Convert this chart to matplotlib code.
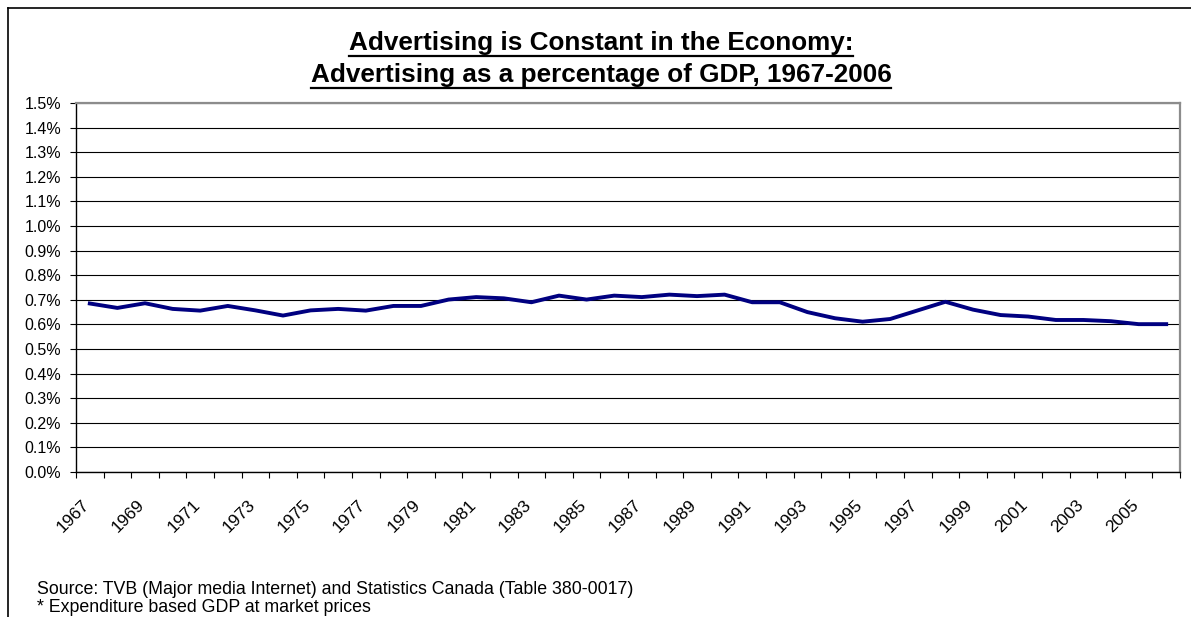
import matplotlib
matplotlib.use("Agg")
import matplotlib.pyplot as plt
from matplotlib.lines import Line2D
from matplotlib.ticker import FuncFormatter, FixedLocator
from matplotlib.transforms import ScaledTranslation

plt.rcParams['font.family'] = ['Liberation Sans', 'DejaVu Sans']

# advertising spend as % of GDP, one value per year
years = list(range(1967, 2007))
ad_share = [0.685, 0.667, 0.686, 0.663, 0.656, 0.675, 0.657, 0.636, 0.657, 0.663,
            0.656, 0.675, 0.675, 0.701, 0.711, 0.706, 0.690, 0.717, 0.701, 0.717,
            0.711, 0.721, 0.715, 0.721, 0.690, 0.690, 0.650, 0.625, 0.611, 0.622,
            0.657, 0.692, 0.660, 0.638, 0.632, 0.618, 0.618, 0.613, 0.601, 0.601]
y_ticks = [i / 10 for i in range(16)]

title_lines = ["Advertising is Constant in the Economy:",
               "Advertising as a percentage of GDP, 1967-2006"]
notes = ["Source: TVB (Major media Internet) and Statistics Canada (Table 380-0017)",
         "* Expenditure based GDP at market prices"]

W, H = 1191, 617
fig = plt.figure(figsize=(W / 100, H / 100), dpi=100)
ax = fig.add_axes([76 / W, 1 - 472 / H, (1180 - 76) / W, (472 - 103) / H])

x = list(range(len(years)))
ax.plot(x, ad_share, color='#000080', lw=2.8, solid_joinstyle='round')

ax.set_xlim(-0.5, len(years) - 0.5)
ax.set_ylim(0, 1.5)

# y axis: percent labels with black gridlines
ax.set_yticks(y_ticks)
ax.yaxis.set_major_formatter(FuncFormatter(lambda v, p: f"{v:.1f}%"))
ax.grid(axis='y', color='black', lw=0.8)
ax.set_axisbelow(True)
ax.tick_params(axis='y', direction='out', length=4.5, width=0.8, pad=6.3,
               labelsize=11.5, color='black')

# x axis: tick marks between categories, labels every other year
ax.xaxis.set_minor_locator(FixedLocator([i - 0.5 for i in range(len(years) + 1)]))
ax.tick_params(axis='x', which='minor', direction='out', length=4.5, width=0.8)
ax.set_xticks(x[::2])
ax.set_xticklabels([str(y) for y in years[::2]])
ax.tick_params(axis='x', which='major', length=0, pad=18, labelsize=12.5)
shift = ScaledTranslation(-8 / 100, 0, fig.dpi_scale_trans)
for lab in ax.get_xticklabels():
    lab.set_rotation(45)
    lab.set_rotation_mode('anchor')
    lab.set_ha('right')
    lab.set_va('top')
    lab.set_transform(lab.get_transform() + shift)

for side in ['left', 'bottom']:
    ax.spines[side].set_color('black')
    ax.spines[side].set_linewidth(1.0)
for side in ['top', 'right']:
    ax.spines[side].set_color('#8c8c8c')
    ax.spines[side].set_linewidth(1.6)

# underlined bold title
fig.canvas.draw()
renderer = fig.canvas.get_renderer()
for i, (line, base) in enumerate(zip(title_lines, [50, 82])):
    t = fig.text(601 / W, 1 - base / H, line, ha='center', va='baseline',
                 fontsize=18.8, fontweight='bold')
    bb = t.get_window_extent(renderer)
    uy = 1 - (base + 6) / H
    fig.add_artist(Line2D([bb.x0 / W, bb.x1 / W], [uy, uy], color='black',
                          lw=1.6, transform=fig.transFigure))

for line, yc in zip(notes, [589, 608]):
    fig.text(37 / W, 1 - yc / H, line, ha='left', va='center', fontsize=12.8)

# outer chart frame (open on right and bottom)
fig.add_artist(Line2D([7.5 / W, 7.5 / W], [1 - 7.5 / H, 0], color='black',
                      lw=1.2, transform=fig.transFigure))
fig.add_artist(Line2D([7.5 / W, 1], [1 - 7.5 / H, 1 - 7.5 / H], color='black',
                      lw=1.2, transform=fig.transFigure))

fig.savefig("out.png", dpi=100)
